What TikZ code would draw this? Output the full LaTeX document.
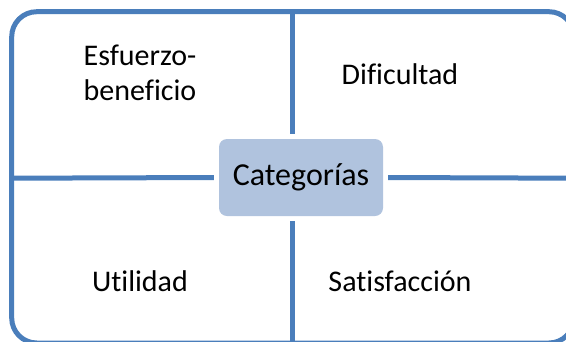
\documentclass[tikz,border=0pt]{standalone}
\usepackage{fontspec}
\setmainfont{Carlito}[Ligatures=NoCommon]
\usetikzlibrary{positioning}
\definecolor{marco}{HTML}{4A7EBB}
\definecolor{relleno}{HTML}{B0C3DE}
\tikzset{
  linea/.style={draw=marco, line width=5pt},
  centro/.style={fill=relleno, rounded corners=8pt, minimum width=164pt, minimum height=77pt, inner sep=0pt, font=\fontsize{32}{38}\selectfont},
  etiqueta/.style={align=center, inner sep=0pt, font=\fontsize{30}{35}\selectfont}
}

\begin{document}
\begin{tikzpicture}[x=1pt,y=-1pt]
\useasboundingbox (0,0) rectangle (566,341);
\coordinate (N) at (292.8,11.7); %borde superior
\coordinate (S) at (292.8,343); %borde inferior
\coordinate (W) at (11.7,178.2); %borde izquierdo
\coordinate (E) at (574,178.2); %borde derecho

%marco exterior
\draw[linea, rounded corners=25pt] (11.7,11.7) rectangle (574,343);

\node[centro] (cat) at (301,177.5) {Categorías};

%cruz
\draw[linea, shorten >=5pt] (N) -- (N |- cat.north);
\draw[linea, shorten >=5pt] (S) -- (S |- cat.south);
\draw[linea, shorten >=5pt] (W) -- (cat.west);
\draw[linea, shorten >=5pt] (E) -- (cat.east);

\node[etiqueta] (esf) at (140,73) {Esfuerzo-\\beneficio};
\node[etiqueta] (dif) at (400,74) {Dificultad};
\node[etiqueta] (uti) at (140,281) {Utilidad};
\node[etiqueta] (sat) at (400,281) {Satisfacción};
\end{tikzpicture}
\end{document}
